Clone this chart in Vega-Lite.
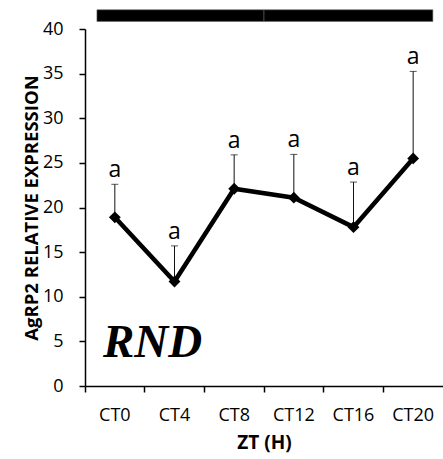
{
  "$schema": "https://vega.github.io/schema/vega-lite/v6.json",
  "autosize": {"type": "none"},
  "width": 358,
  "height": 357,
  "padding": {"left": 85, "top": 29, "right": 0, "bottom": 73},
  "background": "white",
  "config": {"view": {"stroke": null}, "font": "Open Sans"},
  "datasets": {
    "expr": [
      {"ct": "CT0", "mean": 18.9, "upper": 22.6, "sig": "a"},
      {"ct": "CT4", "mean": 11.7, "upper": 15.7, "sig": "a"},
      {"ct": "CT8", "mean": 22.1, "upper": 25.9, "sig": "a"},
      {"ct": "CT12", "mean": 21.1, "upper": 25.95, "sig": "a"},
      {"ct": "CT16", "mean": 17.8, "upper": 22.85, "sig": "a"},
      {"ct": "CT20", "mean": 25.5, "upper": 35.25, "sig": "a"}
    ],
    "bars": [
      {"start": 0.2, "end": 3.0, "lo": 40.85, "hi": 42.15},
      {"start": 3.0, "end": 5.83, "lo": 40.85, "hi": 42.15}
    ],
    "note": [
      {"pos": 0.3, "val": 3.2, "label": "RND"}
    ]
  },
  "layer": [
    {
      "data": {"name": "expr"},
      "layer": [
        {
          "mark": {"type": "rule", "color": "#111", "strokeWidth": 1},
          "encoding": {
            "x": {"field": "ct", "type": "nominal"},
            "y": {"field": "mean", "type": "quantitative"},
            "y2": {"field": "upper"}
          }
        },
        {
          "mark": {"type": "tick", "color": "#111", "thickness": 1, "size": 7, "orient": "horizontal"},
          "encoding": {
            "x": {"field": "ct", "type": "nominal"},
            "y": {"field": "upper", "type": "quantitative"}
          }
        },
        {
          "mark": {"type": "line", "color": "black", "strokeWidth": 4.5},
          "encoding": {
            "x": {"field": "ct", "type": "nominal"},
            "y": {"field": "mean", "type": "quantitative"}
          }
        },
        {
          "mark": {"type": "point", "shape": "diamond", "filled": true, "color": "black", "size": 140, "opacity": 1},
          "encoding": {
            "x": {"field": "ct", "type": "nominal"},
            "y": {"field": "mean", "type": "quantitative"}
          }
        },
        {
          "mark": {"type": "text", "font": "Open Sans", "fontSize": 23, "color": "black", "baseline": "alphabetic", "dy": -7},
          "encoding": {
            "x": {"field": "ct", "type": "nominal"},
            "y": {"field": "upper", "type": "quantitative"},
            "text": {"field": "sig"}
          }
        }
      ],
      "encoding": {
        "x": {
          "field": "ct",
          "type": "nominal",
          "sort": ["CT0", "CT4", "CT8", "CT12", "CT16", "CT20"],
          "scale": {"type": "band", "domain": ["CT0", "CT4", "CT8", "CT12", "CT16", "CT20"], "paddingInner": 0, "paddingOuter": 0},
          "axis": {
            "title": "ZT (H)",
            "titleFont": "Open Sans",
            "titleFontSize": 19,
            "titleFontWeight": "bold",
            "titleColor": "black",
            "titlePadding": 9,
            "labelFont": "Open Sans",
            "labelFontSize": 18,
            "labelColor": "black",
            "labelAngle": 0,
            "labelPadding": 14,
            "bandPosition": 0,
            "domainColor": "black",
            "domainWidth": 1.5,
            "tickColor": "black",
            "tickWidth": 1.5,
            "tickSize": 6,
            "grid": false
          }
        },
        "y": {
          "type": "quantitative",
          "scale": {"domain": [0, 40], "nice": false, "zero": true},
          "axis": {
            "title": "AgRP2 RELATIVE EXPRESSION",
            "titleFont": "Open Sans",
            "titleFontSize": 18.5,
            "titleFontWeight": "bold",
            "titleColor": "black",
            "titlePadding": 1,
            "labelFont": "Open Sans",
            "labelFontSize": 18,
            "labelColor": "black",
            "labelPadding": 16,
            "values": [0, 5, 10, 15, 20, 25, 30, 35, 40],
            "domainColor": "black",
            "domainWidth": 1.5,
            "tickColor": "black",
            "tickWidth": 1.5,
            "tickSize": 6,
            "grid": false
          }
        }
      }
    },
    {
      "data": {"name": "bars"},
      "mark": {"type": "rect", "color": "black", "stroke": "#666", "strokeWidth": 0.6, "clip": false},
      "encoding": {
        "x": {"field": "start", "type": "quantitative", "scale": {"domain": [0, 6], "nice": false, "zero": false}, "axis": null},
        "x2": {"field": "end"},
        "y": {"field": "lo", "type": "quantitative"},
        "y2": {"field": "hi"}
      }
    },
    {
      "data": {"name": "note"},
      "mark": {"type": "text", "font": "Liberation Serif", "fontSize": 47, "fontWeight": "bold", "fontStyle": "italic", "align": "left", "baseline": "alphabetic", "color": "black"},
      "encoding": {
        "x": {"field": "pos", "type": "quantitative", "scale": {"domain": [0, 6], "nice": false, "zero": false}, "axis": null},
        "y": {"field": "val", "type": "quantitative"},
        "text": {"field": "label"}
      }
    }
  ],
  "resolve": {"scale": {"x": "independent"}, "axis": {"x": "independent"}}
}
